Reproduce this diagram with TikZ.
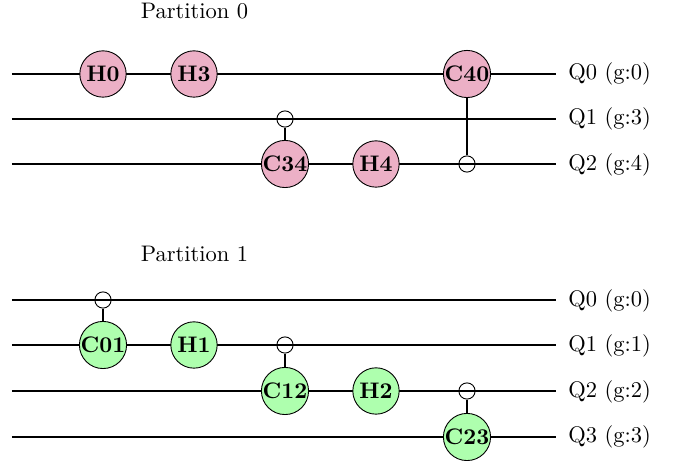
\documentclass[tikz,border=0pt]{standalone}
\usepackage{xcolor}
\definecolor{gpink}{HTML}{ECB0C6}
\definecolor{ggreen}{HTML}{AEFFAE}
\tikzset{
  wire/.style={line width=0.85pt,black},
  ctrlline/.style={line width=0.85pt,black},
  gate/.style={circle,draw=black,line width=0.4pt,minimum size=20.6pt,inner sep=0pt,font=\bfseries},
  pinkgate/.style={gate,fill=gpink},
  greengate/.style={gate,fill=ggreen},
  ctrl/.style={circle,draw=black,line width=0.4pt,minimum size=7.2pt,inner sep=0pt},
  qlabel/.style={anchor=west,inner sep=0pt},
  title/.style={inner sep=0pt}
}
\begin{document}
\begin{tikzpicture}[x=0.4444pt,y=-0.4444pt]
\useasboundingbox (0,0) rectangle (678,461);
% Partition 0
\node[title] (t0) at (194.5,11) {Partition 0};
\coordinate (a0s) at (12,74);  \coordinate (a0e) at (556,74);
\coordinate (a1s) at (12,119); \coordinate (a1e) at (556,119);
\coordinate (a2s) at (12,164); \coordinate (a2e) at (556,164);
\draw[wire] (a0s) -- (a0e);
\draw[wire] (a1s) -- (a1e);
\draw[wire] (a2s) -- (a2e);
\node[qlabel] (la0) at (568,73.5) {Q0 (g:0)};
\node[qlabel] (la1) at (568,119) {Q1 (g:3)};
\node[qlabel] (la2) at (568,165) {Q2 (g:4)};
\node[ctrl] (c34c) at (285,119) {};
\node[ctrl] (c40c) at (467,164) {};
\node[pinkgate] (h0) at (103,74) {H0};
\node[pinkgate] (h3) at (194,74) {H3};
\node[pinkgate] (c34) at (285,164) {C34};
\node[pinkgate] (h4) at (376,164) {H4};
\node[pinkgate] (c40) at (467,74) {C40};
\draw[ctrlline] (c34c) -- (c34);
\draw[ctrlline] (c40c) -- (c40);
% Partition 1
\node[title] (t1) at (194.5,253.5) {Partition 1};
\coordinate (b0s) at (12,300); \coordinate (b0e) at (556,300);
\coordinate (b1s) at (12,345); \coordinate (b1e) at (556,345);
\coordinate (b2s) at (12,391); \coordinate (b2e) at (556,391);
\coordinate (b3s) at (12,437); \coordinate (b3e) at (556,437);
\draw[wire] (b0s) -- (b0e);
\draw[wire] (b1s) -- (b1e);
\draw[wire] (b2s) -- (b2e);
\draw[wire] (b3s) -- (b3e);
\node[qlabel] (lb0) at (568,300.5) {Q0 (g:0)};
\node[qlabel] (lb1) at (568,346) {Q1 (g:1)};
\node[qlabel] (lb2) at (568,391.5) {Q2 (g:2)};
\node[qlabel] (lb3) at (568,437) {Q3 (g:3)};
\node[ctrl] (c01c) at (103,300) {};
\node[ctrl] (c12c) at (285,345) {};
\node[ctrl] (c23c) at (467,391) {};
\node[greengate] (c01) at (103,345) {C01};
\node[greengate] (h1) at (194,345) {H1};
\node[greengate] (c12) at (285,391) {C12};
\node[greengate] (h2) at (376,391) {H2};
\node[greengate] (c23) at (467,437) {C23};
\draw[ctrlline] (c01c) -- (c01);
\draw[ctrlline] (c12c) -- (c12);
\draw[ctrlline] (c23c) -- (c23);
\end{tikzpicture}
\end{document}
